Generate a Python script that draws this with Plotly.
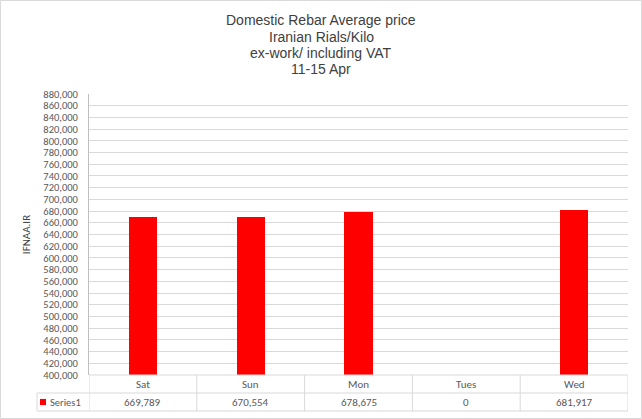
import plotly.graph_objects as go

categories = ["Sat", "Sun", "Mon", "Tues", "Wed"]
values = [669789, 670554, 678675, 0, 681917]
series_name = "Series1"
title_lines = ["Domestic Rebar Average price", "Iranian Rials/Kilo", "ex-work/ including VAT", "11-15 Apr"]
y_title = "IFNAA.IR"
y_min, y_max, y_step = 400000, 880000, 20000

RED = "#ff0000"
GRID = "#d9d9d9"
TXT = "#595959"
FONT = "Carlito, Lato, Calibri, sans-serif"
TFONT = "Liberation Sans Narrow, Arial Narrow, Liberation Sans, Arial"

xpos = list(range(len(categories)))

fig = go.Figure()
fig.add_trace(go.Bar(x=xpos, y=values, marker=dict(color=RED, line=dict(width=0)),
                     width=0.26, name=series_name, showlegend=False))

tickvals = list(range(y_min, y_max + 1, y_step))
fig.update_layout(
    width=642, height=419,
    margin=dict(l=89, r=14, t=94, b=44),
    paper_bgcolor="white", plot_bgcolor="white",
    xaxis=dict(range=[-0.5, len(categories) - 0.5], showticklabels=False, showgrid=False,
               zeroline=False, showline=False, fixedrange=True),
    yaxis=dict(range=[y_min, y_max], tickvals=tickvals, tickformat=",d",
               showgrid=True, gridcolor=GRID, gridwidth=1, zeroline=False,
               showline=True, linecolor="#bfbfbf", linewidth=1, ticks="", ticklen=0,
               ticklabelstandoff=8,
               tickfont=dict(family=FONT, size=10.5, color=TXT),
               title=dict(text=y_title, font=dict(family=FONT, size=11, color="#404040"), standoff=10)),
    bargap=0,
)

plot_h = 419 - 94 - 44
plot_w = 642 - 89 - 14
row_h = 18 / plot_h
y_row1 = -row_h
y_row2 = -2 * row_h
line = dict(color=GRID, width=1)
shapes = []
shapes.append(dict(type="line", xref="x", yref="paper", x0=-0.5, x1=len(categories) - 0.5, y0=0, y1=0, line=line))
shapes.append(dict(type="line", xref="paper", yref="paper", x0=-52 / plot_w, x1=1, y0=y_row1, y1=y_row1, line=line))
shapes.append(dict(type="line", xref="paper", yref="paper", x0=-52 / plot_w, x1=1, y0=y_row2, y1=y_row2, line=line))
shapes.append(dict(type="line", xref="paper", yref="paper", x0=-52 / plot_w, x1=-52 / plot_w, y0=y_row1, y1=y_row2, line=line))
for i in range(len(categories) + 1):
    shapes.append(dict(type="line", xref="x", yref="paper", x0=i - 0.5, x1=i - 0.5, y0=0, y1=y_row2, line=line))
shapes.append(dict(type="rect", xref="paper", yref="paper", x0=-49 / plot_w, x1=-43 / plot_w,
                   y0=y_row1 - 0.33 * row_h, y1=y_row1 - 0.67 * row_h, fillcolor=RED, line=dict(width=0)))
shapes.append(dict(type="rect", xref="paper", yref="paper", x0=-88.5 / plot_w, x1=1 + 13.5 / plot_w,
                   y0=-43.5 / plot_h, y1=1 + 93.5 / plot_h, line=dict(color="#d9d9d9", width=1)))

annotations = []
title_centers_px = [20, 37, 53, 69]
for t, yc in zip(title_lines, title_centers_px):
    annotations.append(dict(x=(321 - 89) / plot_w, y=1 + (94 - yc) / plot_h, xref="paper", yref="paper",
                            text=t, showarrow=False, xanchor="center", yanchor="middle",
                            font=dict(family=TFONT, size=14, color="#404040")))

for i, (c, v) in enumerate(zip(categories, values)):
    annotations.append(dict(x=i, y=y_row1 / 2, xref="x", yref="paper", text=c, showarrow=False,
                            font=dict(family=FONT, size=11, color=TXT), xanchor="center", yanchor="middle"))
    annotations.append(dict(x=i, y=y_row1 * 1.5, xref="x", yref="paper", text=f"{v:,}", showarrow=False,
                            font=dict(family=FONT, size=11, color=TXT), xanchor="center", yanchor="middle"))
annotations.append(dict(x=-41 / plot_w, y=y_row1 * 1.5, xref="paper", yref="paper", text=series_name, showarrow=False,
                        font=dict(family=FONT, size=10.5, color=TXT), xanchor="left", yanchor="middle"))
fig.update_layout(shapes=shapes, annotations=annotations)

fig.write_html("out.html")
